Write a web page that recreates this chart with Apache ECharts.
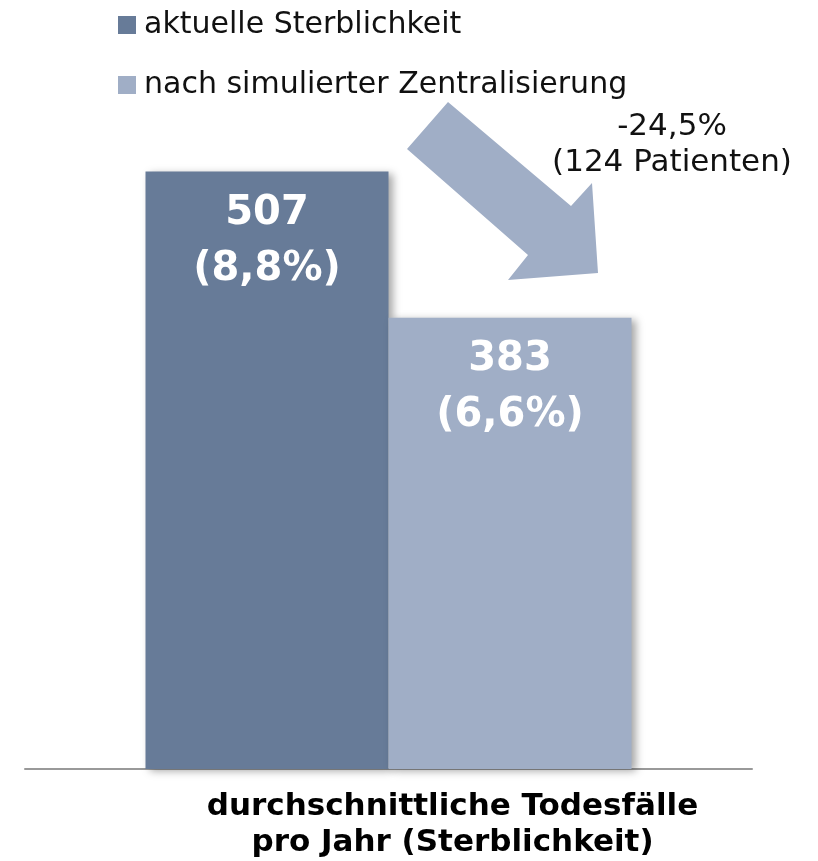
<!DOCTYPE html>
<html>
<head>
<meta charset="utf-8">
<script src="https://cdn.jsdelivr.net/npm/echarts@6/dist/echarts.min.js"></script>
<style>
  html, body { margin: 0; padding: 0; background: #fff; }
  #chart { width: 818px; height: 861px; }
</style>
</head>
<body>
<div id="chart"></div>
<script>
var categories = ['durchschnittliche Todesfälle\npro Jahr (Sterblichkeit)'];
var seriesNames = ['aktuelle Sterblichkeit', 'nach simulierter Zentralisierung'];
var currentValues = [507];
var simulatedValues = [383];
var rateLabels = ['(8,8%)', '(6,6%)'];
var changeText = ['-24,5%', '(124 Patienten)'];

var FONT = 'DejaVu Sans';
var darkColor = '#677b98';
var lightColor = '#a0aec6';

var chart = echarts.init(document.getElementById('chart'));

function barLabel(idx) {
    return {
        show: true,
        position: 'insideTop',
        distance: 14,
        color: '#fff',
        fontFamily: FONT,
        fontWeight: 'bold',
        fontSize: 40,
        lineHeight: 56,
        formatter: function (p) {
            return p.value + '\n' + rateLabels[idx];
        }
    };
}

var option = {
    animation: false,
    textStyle: { fontFamily: FONT },
    legend: {
        orient: 'vertical',
        left: 113,
        top: 5,
        itemWidth: 18,
        itemHeight: 18,
        itemGap: 30,
        icon: 'rect',
        textStyle: { fontSize: 30, lineHeight: 30, color: '#111', fontFamily: FONT, padding: [0, 0, 0, 3] },
        data: seriesNames
    },
    grid: { left: 25, right: 66, top: 62, bottom: 90 },
    xAxis: {
        type: 'category',
        data: categories,
        axisLine: { lineStyle: { color: '#999', width: 2 } },
        axisTick: { show: false },
        axisLabel: {
            margin: 20,
            color: '#000',
            fontFamily: FONT,
            fontWeight: 'bold',
            fontSize: 31,
            lineHeight: 36,
            padding: [0, 0, 0, 128]
        }
    },
    yAxis: {
        type: 'value',
        min: 0,
        max: 600,
        show: false,
        splitLine: { show: false }
    },
    series: [
        {
            name: seriesNames[0],
            type: 'bar',
            data: currentValues,
            barWidth: 243,
            barGap: '0%',
            itemStyle: {
                color: darkColor,
                shadowColor: 'rgba(0,0,0,0.35)',
                shadowBlur: 8,
                shadowOffsetX: 4,
                shadowOffsetY: 2
            },
            label: barLabel(0)
        },
        {
            name: seriesNames[1],
            type: 'bar',
            data: simulatedValues,
            barWidth: 243,
            barGap: '0%',
            itemStyle: {
                color: lightColor,
                shadowColor: 'rgba(0,0,0,0.35)',
                shadowBlur: 8,
                shadowOffsetX: 4,
                shadowOffsetY: 2
            },
            label: barLabel(1)
        }
    ],
    graphic: [
        {
            type: 'polygon',
            z: 10,
            shape: {
                points: [[448, 102], [571, 206], [592, 183], [598, 273], [508, 280], [528, 255], [407, 149]]
            },
            style: { fill: lightColor }
        },
        {
            type: 'text',
            z: 10,
            x: 672,
            y: 109,
            style: {
                text: changeText.join('\n'),
                fontFamily: FONT,
                fontSize: 31,
                lineHeight: 36,
                fill: '#111',
                align: 'center'
            }
        }
    ]
};

chart.setOption(option);
</script>
</body>
</html>
